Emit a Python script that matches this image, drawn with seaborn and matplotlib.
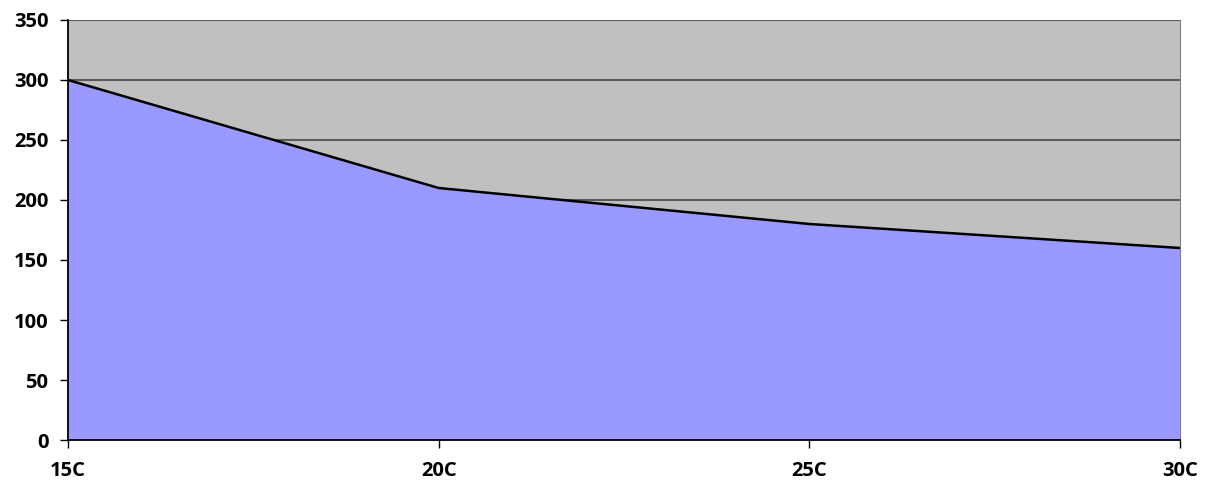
import matplotlib
matplotlib.use('Agg')
import matplotlib.pyplot as plt
import seaborn as sns
import numpy as np
import pandas as pd

# ── Data ─────────────────────────────────────────────────────────────────────
TEMPS  = ['15C', '20C', '25C', '30C']
VALUES = [300, 210, 180, 160]
Y_TICKS = [0, 50, 100, 150, 200, 250, 300, 350]

# ── Palette ──────────────────────────────────────────────────────────────────
BG_GRAY = "#C0C0C0"
FILL    = "#9999FF"
GRID    = "#5A5A5A"

sns.set_style('white')
plt.rcParams['font.family'] = ['Open Sans', 'DejaVu Sans']

df = pd.DataFrame({'pos': np.arange(len(TEMPS)), 'value': VALUES})

fig = plt.figure(figsize=(12.12, 4.84), dpi=100)
ax = fig.add_axes([0.0561, 0.0909, 0.9175, 0.8678])
ax.set_facecolor(BG_GRAY)

ax.fill_between(df['pos'], 0, df['value'], color=FILL, zorder=2, linewidth=0)
sns.lineplot(data=df, x='pos', y='value', color='black', linewidth=1.8, ax=ax, zorder=3)

ax.set_xlim(0, len(TEMPS) - 1)
ax.set_ylim(0, 350)
ax.set_yticks(Y_TICKS)
ax.set_yticklabels([str(t) for t in Y_TICKS], fontsize=14.5, fontweight='bold', color='black')
ax.set_xticks(df['pos'])
ax.set_xticklabels(TEMPS, fontsize=14.5, fontweight='bold', color='black')
ax.set_xlabel('')
ax.set_ylabel('')

for t in Y_TICKS[1:]:
    ax.axhline(t, color=GRID, linewidth=1.5, zorder=1)

ax.spines['top'].set_visible(False)
ax.spines['right'].set_color('#808080')
ax.spines['left'].set_color('black')
ax.spines['bottom'].set_color('black')
for s in ['left', 'bottom']:
    ax.spines[s].set_linewidth(1.3)
    ax.spines[s].set_zorder(4)
ax.tick_params(axis='both', direction='out', length=6, width=1, color='black',
               left=True, bottom=True)
ax.tick_params(axis='y', pad=8)
ax.tick_params(axis='x', pad=9)

fig.savefig('out.png', dpi=100, facecolor='white')
